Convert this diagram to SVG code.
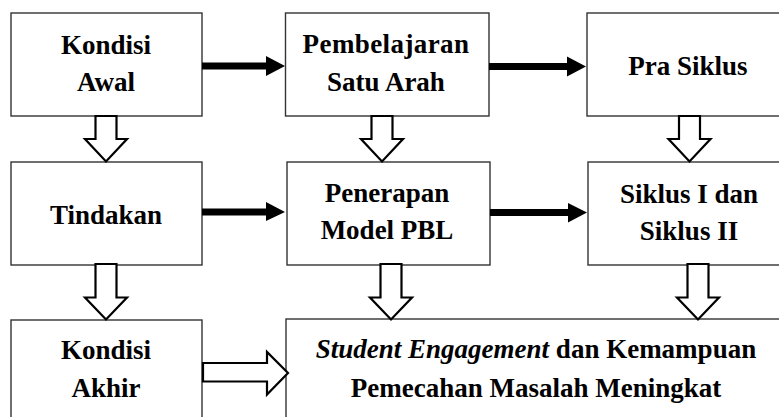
<svg xmlns="http://www.w3.org/2000/svg" width="779" height="417" viewBox="0 0 779 417">
<style>
.box{fill:#fff;stroke:#333;stroke-width:1.4}
.t{font-family:'Liberation Serif',serif;font-weight:bold;font-size:27px;fill:#000;text-anchor:middle}
.hol{fill:#fff;stroke:#000;stroke-width:2.2;stroke-linejoin:miter}
.sol{fill:#000;stroke:none}
</style>
<defs>
<path id="dshort" d="M-10.5,0 H10.5 V23 H21 L0,45.5 L-21,23 H-10.5 Z"/>
<path id="dlong" d="M-10.5,0 H10.5 V33.5 H21 L0,55.5 L-21,33.5 H-10.5 Z"/>
</defs>
<rect width="779" height="417" fill="#fff"/>
<g id="n1"><rect class="box" x="11" y="13" width="191" height="103"/><text class="t" x="106" y="54">Kondisi</text><text class="t" x="106" y="91">Awal</text></g>
<g id="n2"><rect class="box" x="285.5" y="13" width="203.5" height="103"/><text class="t" x="386" y="53" letter-spacing="0.4">Pembelajaran</text><text class="t" x="386" y="91">Satu Arah</text></g>
<g id="n3"><rect class="box" x="587" y="13" width="210" height="103"/><text class="t" x="688" y="75">Pra Siklus</text></g>
<g id="n4"><rect class="box" x="11" y="162" width="191" height="103"/><text class="t" x="106" y="224">Tindakan</text></g>
<g id="n5"><rect class="box" x="287" y="162" width="203" height="103"/><text class="t" x="387" y="202">Penerapan</text><text class="t" x="387" y="239">Model PBL</text></g>
<g id="n6"><rect class="box" x="588" y="162" width="210" height="103"/><text class="t" x="689" y="203">Siklus I dan</text><text class="t" x="689" y="240">Siklus II</text></g>
<g id="n7"><rect class="box" x="11" y="320" width="191" height="110"/><text class="t" x="106" y="359">Kondisi</text><text class="t" x="106" y="397">Akhir</text></g>
<g id="n8"><rect class="box" x="286" y="319" width="510" height="110"/><text class="t" x="536" y="358"><tspan font-style="italic">Student Engagement</tspan> dan Kemampuan</text><text class="t" x="536" y="397">Pemecahan Masalah Meningkat</text></g>
<g id="connectors">
<path class="sol" d="M202,62.5 H266 V56 L285,66 L266,76 V69.5 H202 Z"/>
<path class="sol" d="M489,63 H567 V56.5 L586,66.5 L567,76.5 V70 H489 Z"/>
<path class="sol" d="M202,208.5 H266 V202 L285,212 L266,221 V215.5 H202 Z"/>
<path class="sol" d="M490,209 H568 V203 L587,212.5 L568,222.5 V216 H490 Z"/>
<use href="#dshort" class="hol" x="106" y="116"/>
<use href="#dshort" class="hol" x="382" y="116"/>
<use href="#dshort" class="hol" x="689.5" y="116"/>
<use href="#dlong" class="hol" x="106" y="264"/>
<use href="#dlong" class="hol" x="391" y="264"/>
<use href="#dlong" class="hol" x="698" y="264"/>
<path class="hol" stroke-width="3" d="M203,363 H267 V352 L288,373 L267,394.5 V381.5 H203 Z"/>
</g>
</svg>
